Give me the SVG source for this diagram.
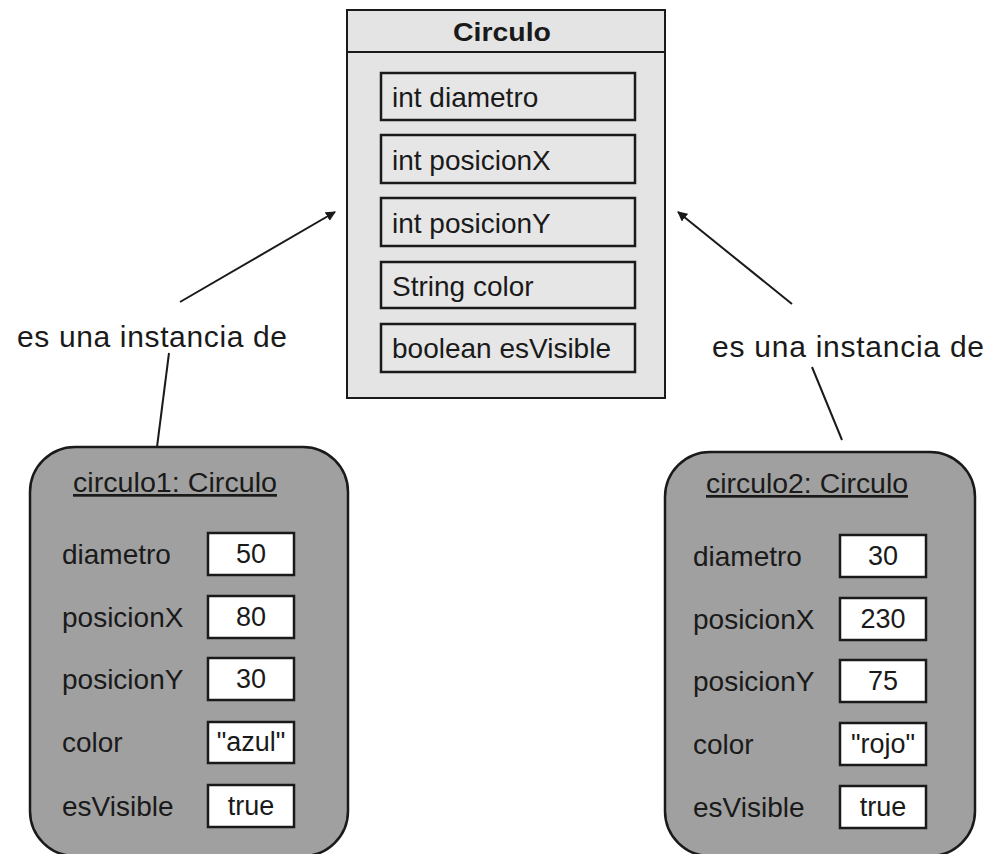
<svg xmlns="http://www.w3.org/2000/svg" width="985" height="854" viewBox="0 0 985 854">
<style>
text { font-family: "Liberation Sans", Arial, sans-serif; fill: #1a1a1a; }
.lbl { font-size: 28px; }
.val { font-size: 27px; text-anchor: middle; }
.title { font-size: 27px; text-anchor: middle; text-decoration: underline; }
.cls { fill: #e4e4e4; stroke: #1a1a1a; stroke-width: 2; }
.attr { fill: #e6e6e6; stroke: #1a1a1a; stroke-width: 2.5; }
.obj { fill: #a0a0a0; stroke: #1a1a1a; stroke-width: 2.5; }
.vbox { fill: #ffffff; stroke: #1a1a1a; stroke-width: 2.5; }
.conn { stroke: #1a1a1a; stroke-width: 2; fill: none; }
.inst { font-size: 30px; }
</style>
<defs>
<marker id="arr" viewBox="0 0 10 10" refX="9" refY="5" markerWidth="5" markerHeight="5" orient="auto" markerUnits="strokeWidth">
<path d="M0,0 L10,5 L0,10 z" fill="#1a1a1a"/>
</marker>
</defs>
<rect width="985" height="854" fill="#ffffff"/>

<g id="circulo-class">
<rect class="cls" x="347" y="10" width="318" height="388"/>
<line x1="347" y1="52" x2="665" y2="52" stroke="#1a1a1a" stroke-width="2"/>
<text x="502" y="41" font-size="26" font-weight="bold" text-anchor="middle" textLength="98" lengthAdjust="spacingAndGlyphs">Circulo</text>
<rect class="attr" x="381" y="73" width="254" height="47"/>
<text class="lbl" x="392" y="107">int diametro</text>
<rect class="attr" x="381" y="135" width="254" height="48"/>
<text class="lbl" x="392" y="170">int posicionX</text>
<rect class="attr" x="381" y="198" width="254" height="48"/>
<text class="lbl" x="392" y="233">int posicionY</text>
<rect class="attr" x="381" y="262" width="254" height="46"/>
<text class="lbl" x="392" y="296">String color</text>
<rect class="attr" x="381" y="324" width="254" height="48"/>
<text class="lbl" x="392" y="358">boolean esVisible</text>
</g>

<g id="circulo1">
<rect class="obj" x="30" y="447" width="318" height="409" rx="45" ry="45"/>
<text class="title" x="175" y="492" textLength="204" lengthAdjust="spacingAndGlyphs">circulo1: Circulo</text>
<text class="lbl" x="62" y="564">diametro</text>
<rect class="vbox" x="208" y="533" width="86" height="42"/>
<text class="val" x="251" y="563">50</text>
<text class="lbl" x="62" y="627">posicionX</text>
<rect class="vbox" x="208" y="596" width="86" height="42"/>
<text class="val" x="251" y="626">80</text>
<text class="lbl" x="62" y="689">posicionY</text>
<rect class="vbox" x="208" y="658" width="86" height="42"/>
<text class="val" x="251" y="688">30</text>
<text class="lbl" x="62" y="752">color</text>
<rect class="vbox" x="208" y="722" width="86" height="41"/>
<text class="val" x="251" y="751">"azul"</text>
<text class="lbl" x="62" y="816">esVisible</text>
<rect class="vbox" x="208" y="785" width="86" height="42"/>
<text class="val" x="251" y="815">true</text>
</g>

<g id="circulo2">
<rect class="obj" x="665" y="452" width="310" height="404" rx="45" ry="45"/>
<text class="title" x="807" y="493" textLength="202" lengthAdjust="spacingAndGlyphs">circulo2: Circulo</text>
<text class="lbl" x="693" y="566">diametro</text>
<rect class="vbox" x="840" y="535" width="86" height="42"/>
<text class="val" x="883" y="565">30</text>
<text class="lbl" x="693" y="629">posicionX</text>
<rect class="vbox" x="840" y="598" width="86" height="42"/>
<text class="val" x="883" y="628">230</text>
<text class="lbl" x="693" y="691">posicionY</text>
<rect class="vbox" x="840" y="660" width="86" height="42"/>
<text class="val" x="883" y="690">75</text>
<text class="lbl" x="693" y="754">color</text>
<rect class="vbox" x="840" y="723" width="86" height="42"/>
<text class="val" x="883" y="753">"rojo"</text>
<text class="lbl" x="693" y="817">esVisible</text>
<rect class="vbox" x="840" y="786" width="86" height="42"/>
<text class="val" x="883" y="816">true</text>
</g>

<g id="connectors">
<line class="conn" x1="180" y1="302" x2="335" y2="212" marker-end="url(#arr)"/>
<line class="conn" x1="169" y1="353" x2="157" y2="447"/>
<text class="inst" x="17" y="347" textLength="270" lengthAdjust="spacing">es una instancia de</text>
<line class="conn" x1="792" y1="304" x2="678" y2="212" marker-end="url(#arr)"/>
<line class="conn" x1="812" y1="367" x2="842" y2="440"/>
<text class="inst" x="712" y="357" textLength="272" lengthAdjust="spacing">es una instancia de</text>
</g>
</svg>
